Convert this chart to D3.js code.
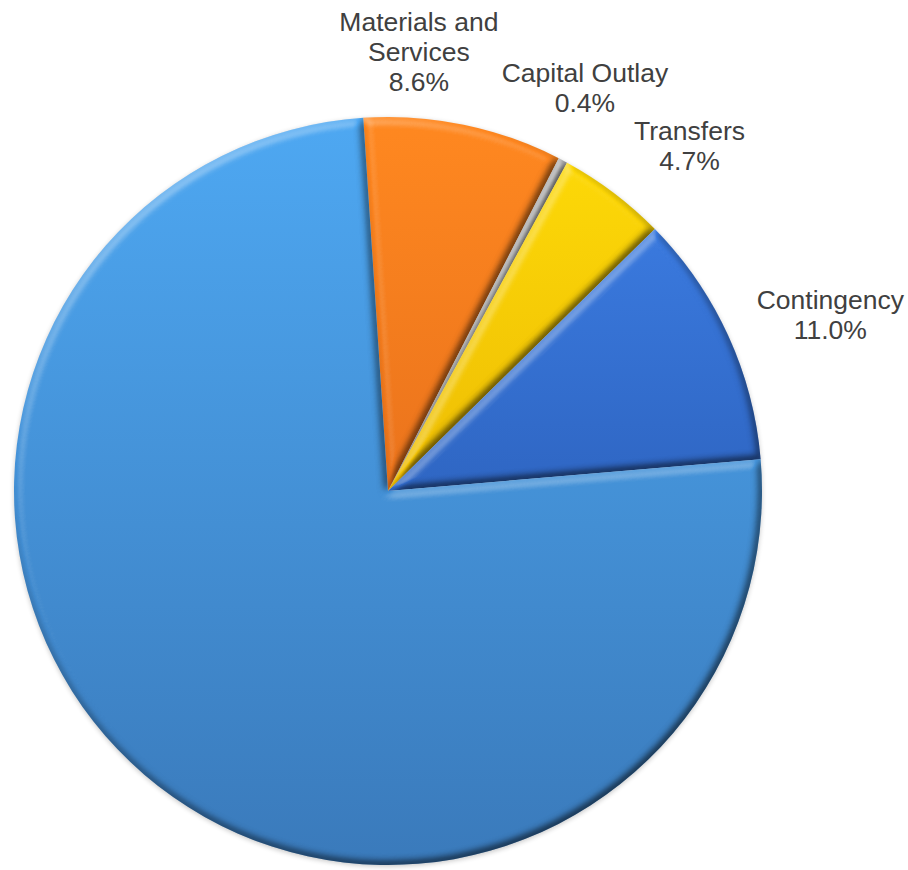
<!DOCTYPE html>
<html>
<head>
<meta charset="utf-8">
<script src="https://cdn.jsdelivr.net/npm/d3@7/dist/d3.min.js"></script>
<style>
  html, body { margin: 0; padding: 0; background: #fff; }
  svg { display: block; }
</style>
</head>
<body>
<div id="chart"></div>
<script>
'use strict';

// budget shares, clockwise from the top
var categories = ['Materials and Services', 'Capital Outlay', 'Transfers', 'Contingency', 'Personnel Services'];
var values = [8.6, 0.4, 4.7, 11.0, 75.3];
// label text lines (percentage appended), big slice has no label
var labelLines = [['Materials and', 'Services'], ['Capital Outlay'], ['Transfers'], ['Contingency'], []];

var colorTop = ['#ff8820', '#b0b0b0', '#ffdc08', '#3f82ea', '#4ea8f2'];
var colorBot = ['#d65e18', '#7c7c7c', '#dc9e00', '#1f4a9c', '#3a7abb'];
// small hand nudges for the outside labels (px)
var labelNudge = [[-57, -15], [-6, -20], [40, 1], [48, 5], [0, 0]];

var width = 908, height = 870;
var cx = 388, cy = 491, radius = 374;
var startAngle = -3.8 * Math.PI / 180;

var data = categories.map(function(c, i) {
	return { name: c, value: values[i], idx: i };
});
var total = d3.sum(values);

var svg = d3.select('#chart').append('svg').attr('width', width).attr('height', height);
var defs = svg.append('defs');

// gradients, vertical over the whole pie (coords of the translated group)
data.forEach(function(d, i) {
	var lg = defs.append('linearGradient').attr('id', 'grad' + i)
		.attr('gradientUnits', 'userSpaceOnUse')
		.attr('x1', 0).attr('y1', -radius).attr('x2', 0).attr('y2', radius);
	lg.append('stop').attr('offset', '0%').attr('stop-color', colorTop[i]);
	lg.append('stop').attr('offset', '100%').attr('stop-color', colorBot[i]);
});

// bevel: light from top left, highlight + shade on every slice edge
var f = defs.append('filter').attr('id', 'bevel')
	.attr('x', '-5%').attr('y', '-5%').attr('width', '110%').attr('height', '110%')
	.attr('color-interpolation-filters', 'sRGB');
f.append('feGaussianBlur').attr('in', 'SourceAlpha').attr('stdDeviation', 4).attr('result', 'blur');
f.append('feDiffuseLighting').attr('in', 'blur').attr('surfaceScale', 5).attr('diffuseConstant', 1)
	.attr('lighting-color', '#fff').attr('result', 'light')
	.append('feDistantLight').attr('azimuth', 235).attr('elevation', 60);
var D0 = Math.sin(60 * Math.PI / 180), hiGain = 2.2, loGain = 0.9;
f.append('feColorMatrix').attr('in', 'light').attr('type', 'matrix')
	.attr('values', '0 0 0 0 1  0 0 0 0 1  0 0 0 0 1  ' + hiGain + ' 0 0 0 ' + (-hiGain * D0))
	.attr('result', 'hiRaw');
f.append('feColorMatrix').attr('in', 'light').attr('type', 'matrix')
	.attr('values', '0 0 0 0 0  0 0 0 0 0  0 0 0 0 0  ' + (-loGain) + ' 0 0 0 ' + (loGain * D0))
	.attr('result', 'loRaw');
f.append('feComposite').attr('in', 'hiRaw').attr('in2', 'SourceAlpha').attr('operator', 'in').attr('result', 'hi');
f.append('feComposite').attr('in', 'loRaw').attr('in2', 'SourceAlpha').attr('operator', 'in').attr('result', 'lo');
var m = f.append('feMerge');
m.append('feMergeNode').attr('in', 'SourceGraphic');
m.append('feMergeNode').attr('in', 'lo');
m.append('feMergeNode').attr('in', 'hi');

// soft outer shadow
var sh = defs.append('filter').attr('id', 'shadow')
	.attr('x', '-10%').attr('y', '-10%').attr('width', '120%').attr('height', '120%');
sh.append('feGaussianBlur').attr('stdDeviation', 2.5);

var pie = d3.pie().sort(null).value(function(d) { return d.value; })
	.startAngle(startAngle).endAngle(startAngle + 2 * Math.PI);
var arc = d3.arc().innerRadius(0).outerRadius(radius);
var labelArc = d3.arc().innerRadius(radius + 60).outerRadius(radius + 60);

var g = svg.append('g').attr('transform', 'translate(' + cx + ',' + cy + ')');

g.append('circle').attr('cx', 0).attr('cy', 1.5).attr('r', radius)
	.attr('fill', '#000').attr('opacity', 0.22).attr('filter', 'url(#shadow)');

var arcs = pie(data);

g.selectAll('path.slice').data(arcs).enter().append('path')
	.attr('class', 'slice')
	.attr('d', arc)
	.attr('fill', function(d) { return 'url(#grad' + d.data.idx + ')'; })
	.attr('filter', 'url(#bevel)');

// labels
var fmt = d3.format('.1%');
var lineH = 30;
arcs.forEach(function(d, i) {
	var lines = labelLines[i];
	if (!lines.length) return;
	lines = lines.concat([fmt(d.data.value / total)]);
	var c = labelArc.centroid(d);
	var lx = c[0] + labelNudge[i][0], ly = c[1] + labelNudge[i][1];
	var t = g.append('text')
		.attr('text-anchor', 'middle')
		.style('font-family', '"Liberation Sans", Arial, sans-serif')
		.style('font-size', '26.5px')
		.attr('fill', '#404040');
	lines.forEach(function(s, k) {
		t.append('tspan').attr('x', lx)
			.attr('y', ly + (k - (lines.length - 1) / 2) * lineH + 9.5)
			.text(s);
	});
});
</script>
</body>
</html>
